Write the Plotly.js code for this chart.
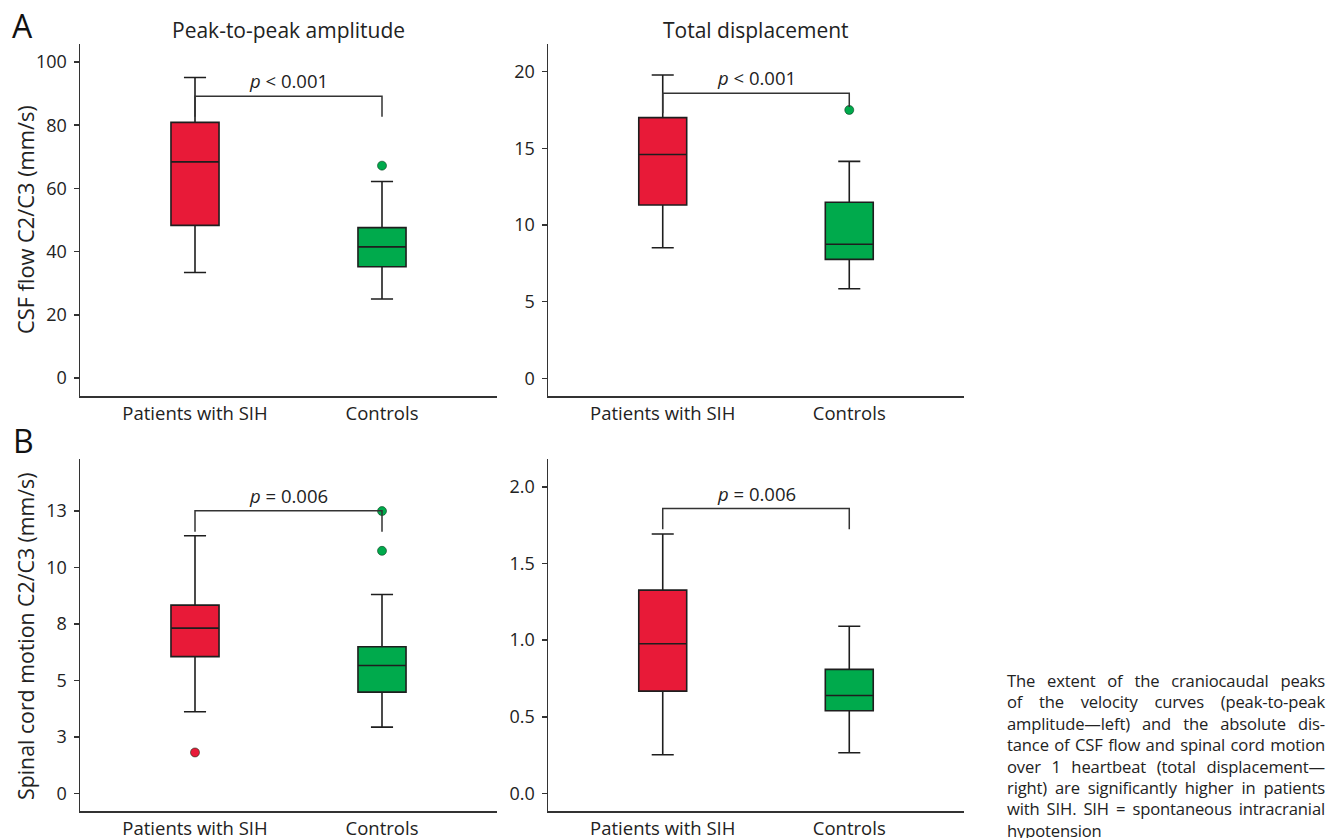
<!DOCTYPE html>
<html>
<head>
<meta charset="utf-8">
<script src="https://cdn.plot.ly/plotly-3.0.1.min.js"></script>
<style>
  html, body { margin: 0; padding: 0; background: #fff; }
  #wrap { position: relative; width: 1329px; height: 838px; overflow: hidden; }
  #chart { position: absolute; left: 0; top: 0; width: 1329px; height: 838px; }
  #caption { position: absolute; left: 1007px; top: 670px; width: 318px;
    font-family: 'Open Sans', sans-serif; font-size: 16.6px; line-height: 21.4px; color: #222;
    letter-spacing: -0.15px; }
  #caption div { text-align: justify; text-align-last: justify; white-space: nowrap; }
  #caption div.last { text-align: left; text-align-last: left; }
</style>
</head>
<body>
<div id="wrap">
  <div id="chart"></div>
  <div id="caption">
    <div>The extent of the craniocaudal peaks</div>
    <div>of the velocity curves (peak-to-peak</div>
    <div>amplitude—left) and the absolute dis-</div>
    <div>tance of CSF flow and spinal cord motion</div>
    <div>over 1 heartbeat (total displacement—</div>
    <div>right) are significantly higher in patients</div>
    <div>with SIH. SIH = spontaneous intracranial</div>
    <div class="last">hypotension</div>
  </div>
</div>
<script>
// ---- data ----
const categories = ['Patients with SIH', 'Controls'];
const panelTitles = ['Peak-to-peak amplitude', 'Total displacement'];
const yTitles = ['CSF flow C2/C3 (mm/s)', 'Spinal cord motion C2/C3 (mm/s)'];

// A-left: CSF peak-to-peak amplitude
const csfAmpQ1 = [48.3, 35.2];
const csfAmpMedian = [68.4, 41.5];
const csfAmpQ3 = [80.9, 47.6];
const csfAmpLow = [33.4, 25.0];
const csfAmpHigh = [95.1, 62.2];
const csfAmpOutSIH = [];
const csfAmpOutCtrl = [67.2];
const csfAmpBracket = [82.7, 89.2, 82.7];
const csfAmpP = '<i>p</i> < 0.001';
const csfAmpPy = 94.3;

// A-right: CSF total displacement
const csfDispQ1 = [11.3, 7.76];
const csfDispMedian = [14.6, 8.74];
const csfDispQ3 = [17.0, 11.48];
const csfDispLow = [8.52, 5.84];
const csfDispHigh = [19.78, 14.15];
const csfDispOutSIH = [];
const csfDispOutCtrl = [17.5];
const csfDispBracket = [17.28, 18.59, 17.7];
const csfDispP = '<i>p</i> < 0.001';
const csfDispPy = 19.6;

// B-left: spinal cord peak-to-peak amplitude
const cordAmpQ1 = [6.05, 4.48];
const cordAmpMedian = [7.31, 5.66];
const cordAmpQ3 = [8.33, 6.49];
const cordAmpLow = [3.61, 2.93];
const cordAmpHigh = [11.4, 8.8];
const cordAmpOutSIH = [1.81];
const cordAmpOutCtrl = [12.49, 10.73];
const cordAmpBracket = [11.58, 12.5, 11.58];
const cordAmpP = '<i>p</i> = 0.006';
const cordAmpPy = 13.2;
const cordAmpTickVals = [0, 2.5, 5, 7.5, 10, 12.5];
const cordAmpTickText = ['0', '3', '5', '8', '10', '13'];

// B-right: spinal cord total displacement
const cordDispQ1 = [0.667, 0.539];
const cordDispMedian = [0.976, 0.639];
const cordDispQ3 = [1.326, 0.809];
const cordDispLow = [0.252, 0.265];
const cordDispHigh = [1.693, 1.091];
const cordDispOutSIH = [];
const cordDispOutCtrl = [];
const cordDispBracket = [1.724, 1.859, 1.724];
const cordDispP = '<i>p</i> = 0.006';
const cordDispPy = 1.96;

// ---- styling ----
const colors = ['rgb(232,26,56)', 'rgb(0,170,76)'];
const outlineColor = '#1e1e1e';
const axisColor = '#333333';
const fontFam = "'Open Sans', sans-serif";

const panels = [
  {q1: csfAmpQ1, med: csfAmpMedian, q3: csfAmpQ3, lo: csfAmpLow, hi: csfAmpHigh,
   out: [csfAmpOutSIH, csfAmpOutCtrl], br: csfAmpBracket, p: csfAmpP, py: csfAmpPy,
   xa: 'x', ya: 'y', yrange: [-5.7, 105.7], dtick: 20},
  {q1: csfDispQ1, med: csfDispMedian, q3: csfDispQ3, lo: csfDispLow, hi: csfDispHigh,
   out: [csfDispOutSIH, csfDispOutCtrl], br: csfDispBracket, p: csfDispP, py: csfDispPy,
   xa: 'x2', ya: 'y2', yrange: [-1.15, 21.8], dtick: 5},
  {q1: cordAmpQ1, med: cordAmpMedian, q3: cordAmpQ3, lo: cordAmpLow, hi: cordAmpHigh,
   out: [cordAmpOutSIH, cordAmpOutCtrl], br: cordAmpBracket, p: cordAmpP, py: cordAmpPy,
   xa: 'x3', ya: 'y3', yrange: [-0.78, 14.78], tickvals: cordAmpTickVals, ticktext: cordAmpTickText},
  {q1: cordDispQ1, med: cordDispMedian, q3: cordDispQ3, lo: cordDispLow, hi: cordDispHigh,
   out: [cordDispOutSIH, cordDispOutCtrl], br: cordDispBracket, p: cordDispP, py: cordDispPy,
   xa: 'x4', ya: 'y4', yrange: [-0.115, 2.18], dtick: 0.5, tickformat: '.1f'}
];

const traces = [];
const annotations = [];
panels.forEach(pn => {
  categories.forEach((cat, i) => {
    traces.push({
      type: 'box', x: [cat], q1: [pn.q1[i]], median: [pn.med[i]], q3: [pn.q3[i]],
      lowerfence: [pn.lo[i]], upperfence: [pn.hi[i]],
      fillcolor: colors[i], line: {color: outlineColor, width: 1.6},
      width: 0.257, whiskerwidth: 0.46, boxpoints: false,
      xaxis: pn.xa, yaxis: pn.ya, showlegend: false, hoverinfo: 'skip'
    });
    if (pn.out[i].length) {
      traces.push({
        type: 'scatter', mode: 'markers', x: pn.out[i].map(() => cat), y: pn.out[i],
        marker: {color: colors[i], size: 9, line: {color: 'rgba(0,50,20,0.7)', width: 0.8}},
        xaxis: pn.xa, yaxis: pn.ya, showlegend: false, hoverinfo: 'skip', cliponaxis: false
      });
    }
  });
  traces.push({
    type: 'scatter', mode: 'lines',
    x: [categories[0], categories[0], categories[1], categories[1]],
    y: [pn.br[0], pn.br[1], pn.br[1], pn.br[2]],
    line: {color: axisColor, width: 1.5}, xaxis: pn.xa, yaxis: pn.ya,
    showlegend: false, hoverinfo: 'skip'
  });
  annotations.push({
    text: pn.p, xref: pn.xa, yref: pn.ya, x: 0.5, y: pn.py, showarrow: false,
    xanchor: 'center', yanchor: 'middle',
    font: {family: fontFam, size: 18.5, color: '#222'}
  });
});

const W = 1329, H = 838;
function paperAnn(text, px, py, size, extra) {
  return Object.assign({text: text, xref: 'paper', yref: 'paper', x: px / W, y: 1 - py / H,
    xanchor: 'center', yanchor: 'middle', showarrow: false,
    font: {family: fontFam, size: size, color: '#222'}}, extra || {});
}
// panel titles
annotations.push(paperAnn(panelTitles[0], 288.5, 30, 21));
annotations.push(paperAnn(panelTitles[1], 756, 30, 21));
// y titles
annotations.push(paperAnn(yTitles[0], 25, 220, 21.8, {textangle: -90}));
annotations.push(paperAnn(yTitles[1], 25, 636, 21.3, {textangle: -90}));
// panel letters
annotations.push(paperAnn('A', 22, 26, 32, {font: {family: fontFam, size: 32, color: '#111'}}));
annotations.push(paperAnn('B', 23, 440, 32, {font: {family: fontFam, size: 32, color: '#111'}}));

const xDomL = [80/W, 497/W], xDomR = [548/W, 964/W];
const yDomA = [1 - 396/H, 1 - 44/H], yDomB = [1 - 811/H, 1 - 459.3/H];

function xAx(dom, anchor) {
  return {domain: dom, anchor: anchor, type: 'category', categoryarray: categories,
    range: [-0.615, 1.615], showline: true, linecolor: axisColor, linewidth: 1.5,
    ticks: '', showgrid: false, zeroline: false,
    tickfont: {family: fontFam, size: 18.5, color: '#222'}, fixedrange: true};
}
function yAx(dom, anchor, pn) {
  const a = {domain: dom, anchor: anchor, range: pn.yrange, showline: true,
    linecolor: axisColor, linewidth: 1.5, ticks: 'outside', ticklen: 5, tickwidth: 1.5,
    tickcolor: axisColor, showgrid: false, zeroline: false, ticklabelstandoff: 3,
    tickfont: {family: fontFam, size: 18, color: '#222'}, fixedrange: true};
  if (pn.tickvals) { a.tickmode = 'array'; a.tickvals = pn.tickvals; a.ticktext = pn.ticktext; }
  else { a.dtick = pn.dtick; a.tick0 = 0; }
  if (pn.tickformat) a.tickformat = pn.tickformat;
  return a;
}

const layout = {
  width: W, height: H, margin: {l: 0, r: 0, t: 0, b: 0},
  paper_bgcolor: '#fff', plot_bgcolor: '#fff', showlegend: false,
  xaxis: xAx(xDomL, 'y'), yaxis: yAx(yDomA, 'x', panels[0]),
  xaxis2: xAx(xDomR, 'y2'), yaxis2: yAx(yDomA, 'x2', panels[1]),
  xaxis3: xAx(xDomL, 'y3'), yaxis3: yAx(yDomB, 'x3', panels[2]),
  xaxis4: xAx(xDomR, 'y4'), yaxis4: yAx(yDomB, 'x4', panels[3]),
  annotations: annotations
};

Plotly.newPlot('chart', traces, layout, {displayModeBar: false, staticPlot: true});
</script>
</body>
</html>
